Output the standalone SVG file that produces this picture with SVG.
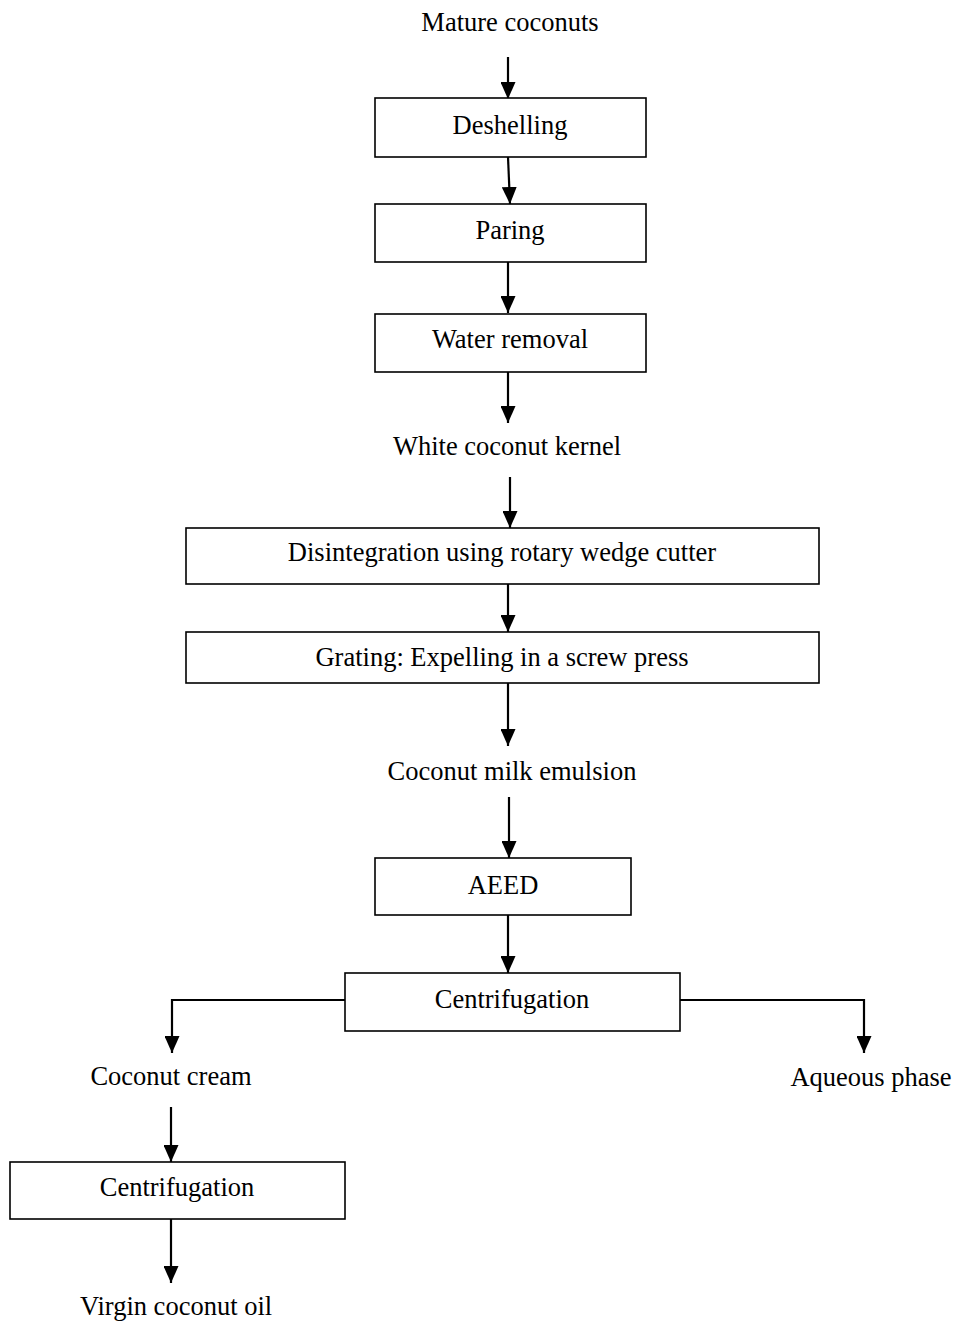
<svg xmlns="http://www.w3.org/2000/svg" width="956" height="1322" viewBox="0 0 956 1322">
<style>
text{font-family:"Liberation Serif","Times New Roman",serif;font-size:26.5px;fill:#000;text-anchor:middle}
.box{fill:#fff;stroke:#000;stroke-width:1.6}
.c line,.c path{stroke:#000;stroke-width:2.2;fill:none}
</style>
<defs>
<marker id="a" viewBox="0 0 17 15" refX="17" refY="7.5" markerWidth="17" markerHeight="15" markerUnits="userSpaceOnUse" orient="auto">
<path d="M0,0 L17,7.5 L0,15 Z" fill="#000"/>
</marker>
</defs>
<rect width="956" height="1322" fill="#fff"/>
<g class="c" id="connectors">
<line x1="508" y1="57" x2="508" y2="99" marker-end="url(#a)"/>
<line x1="508" y1="157" x2="510" y2="204" marker-end="url(#a)"/>
<line x1="508" y1="262" x2="508" y2="313" marker-end="url(#a)"/>
<line x1="508" y1="372" x2="508" y2="423" marker-end="url(#a)"/>
<line x1="510" y1="477" x2="510" y2="528" marker-end="url(#a)"/>
<line x1="508" y1="584" x2="508" y2="632" marker-end="url(#a)"/>
<line x1="508" y1="683" x2="508" y2="746" marker-end="url(#a)"/>
<line x1="509" y1="797" x2="509" y2="858" marker-end="url(#a)"/>
<line x1="508" y1="915" x2="508" y2="973" marker-end="url(#a)"/>
<path d="M345,1000 H172 V1053" marker-end="url(#a)"/>
<path d="M680,1000 H864 V1053" marker-end="url(#a)"/>
<line x1="171" y1="1107" x2="171" y2="1162" marker-end="url(#a)"/>
<line x1="171" y1="1219" x2="171" y2="1283" marker-end="url(#a)"/>
</g>
<g id="n1"><text x="510" y="31">Mature coconuts</text></g>
<g id="n2"><rect class="box" x="375" y="98" width="271" height="59"/><text x="510" y="134">Deshelling</text></g>
<g id="n3"><rect class="box" x="375" y="204" width="271" height="58"/><text x="510" y="239">Paring</text></g>
<g id="n4"><rect class="box" x="375" y="314" width="271" height="58"/><text x="510" y="348">Water removal</text></g>
<g id="n5"><text x="507" y="455">White coconut kernel</text></g>
<g id="n6"><rect class="box" x="186" y="528" width="633" height="56"/><text x="502" y="561">Disintegration using rotary wedge cutter</text></g>
<g id="n7"><rect class="box" x="186" y="632" width="633" height="51"/><text x="502" y="666">Grating: Expelling in a screw press</text></g>
<g id="n8"><text x="512" y="780">Coconut milk emulsion</text></g>
<g id="n9"><rect class="box" x="375" y="858" width="256" height="57"/><text x="503" y="894">AEED</text></g>
<g id="n10"><rect class="box" x="345" y="973" width="335" height="58"/><text x="512" y="1008">Centrifugation</text></g>
<g id="n11"><text x="171" y="1085">Coconut cream</text></g>
<g id="n12"><text x="871" y="1086">Aqueous phase</text></g>
<g id="n13"><rect class="box" x="10" y="1162" width="335" height="57"/><text x="177" y="1196">Centrifugation</text></g>
<g id="n14"><text x="176" y="1315">Virgin coconut oil</text></g>
</svg>
